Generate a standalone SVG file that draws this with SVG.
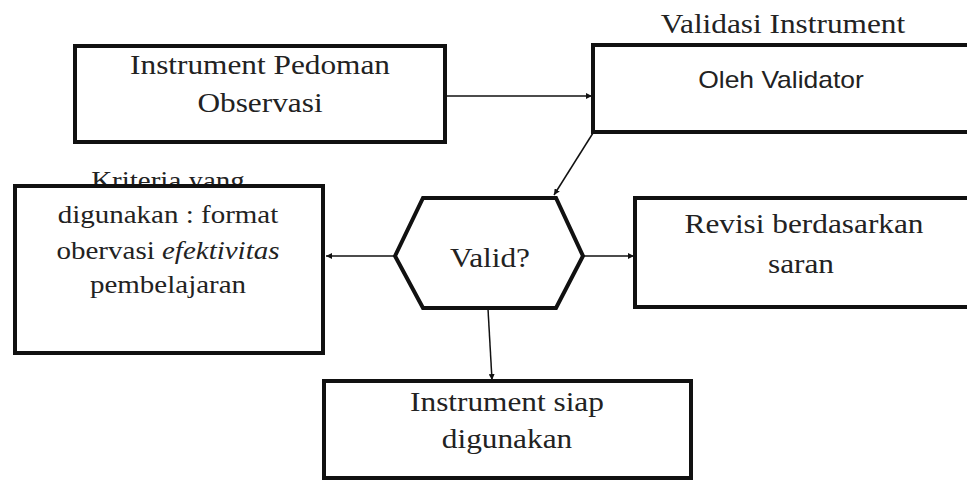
<svg xmlns="http://www.w3.org/2000/svg" width="967" height="485" viewBox="0 0 967 485">
<style>
.box{fill:#fff;stroke:#111;stroke-width:4}
.t{font-family:"Liberation Serif","Times New Roman",serif;font-size:27px;fill:#222;text-anchor:middle}
.k{font-size:25px}
.s{font-family:"Liberation Sans",Arial,sans-serif;font-size:23px;fill:#222;text-anchor:middle}
.c{fill:none;stroke:#111;stroke-width:1.5}
</style>
<defs>
<marker id="ah" viewBox="0 0 10 10" refX="10" refY="5" markerWidth="6" markerHeight="6" markerUnits="userSpaceOnUse" orient="auto">
<path d="M0,0 L10,5 L0,10 z" fill="#111"/>
</marker>
</defs>
<rect width="967" height="485" fill="#fff"/>
<g id="connectors">
<line class="c" x1="445" y1="96" x2="592" y2="96" marker-end="url(#ah)"/>
<line class="c" x1="593" y1="133" x2="554" y2="195" marker-end="url(#ah)"/>
<line class="c" x1="395" y1="256" x2="326" y2="256" marker-end="url(#ah)"/>
<line class="c" x1="583" y1="256" x2="634" y2="256" marker-end="url(#ah)"/>
<line class="c" x1="488" y1="309" x2="492" y2="380" marker-end="url(#ah)"/>
</g>
<g id="n1">
<rect class="box" x="75" y="46" width="370" height="96"/>
<text class="t" transform="translate(260,74) scale(1.16,1)">Instrument Pedoman</text>
<text class="t" transform="translate(260,112) scale(1.16,1)">Observasi</text>
</g>
<g id="n2">
<text class="t" transform="translate(783,33) scale(1.16,1)">Validasi Instrument</text>
<rect class="box" x="593" y="45" width="400" height="87"/>
<text class="s" transform="translate(781,88) scale(1.15,1)">Oleh Validator</text>
</g>
<g id="n3">
<text class="t k" transform="translate(168,189) scale(1.16,1)">Kriteria yang</text>
<rect class="box" x="15" y="186" width="308" height="167"/>
<text class="t k" transform="translate(168,223) scale(1.16,1)">digunakan : format</text>
<text class="t k" transform="translate(168,259) scale(1.16,1)">obervasi <tspan font-style="italic">efektivitas</tspan></text>
<text class="t k" transform="translate(168,293) scale(1.16,1)">pembelajaran</text>
</g>
<g id="n4">
<polygon class="box" points="395,256 423,198 556,198 583,256 556,308 423,308"/>
<text class="t" transform="translate(490,267) scale(1.16,1)">Valid?</text>
</g>
<g id="n5">
<rect class="box" x="635" y="198" width="360" height="109"/>
<text class="t" transform="translate(804,233) scale(1.16,1)">Revisi berdasarkan</text>
<text class="t" transform="translate(801,273) scale(1.16,1)">saran</text>
</g>
<g id="n6">
<rect class="box" x="324" y="381" width="367" height="97"/>
<text class="t" transform="translate(507,411) scale(1.16,1)">Instrument siap</text>
<text class="t" transform="translate(507,448) scale(1.16,1)">digunakan</text>
</g>
</svg>
